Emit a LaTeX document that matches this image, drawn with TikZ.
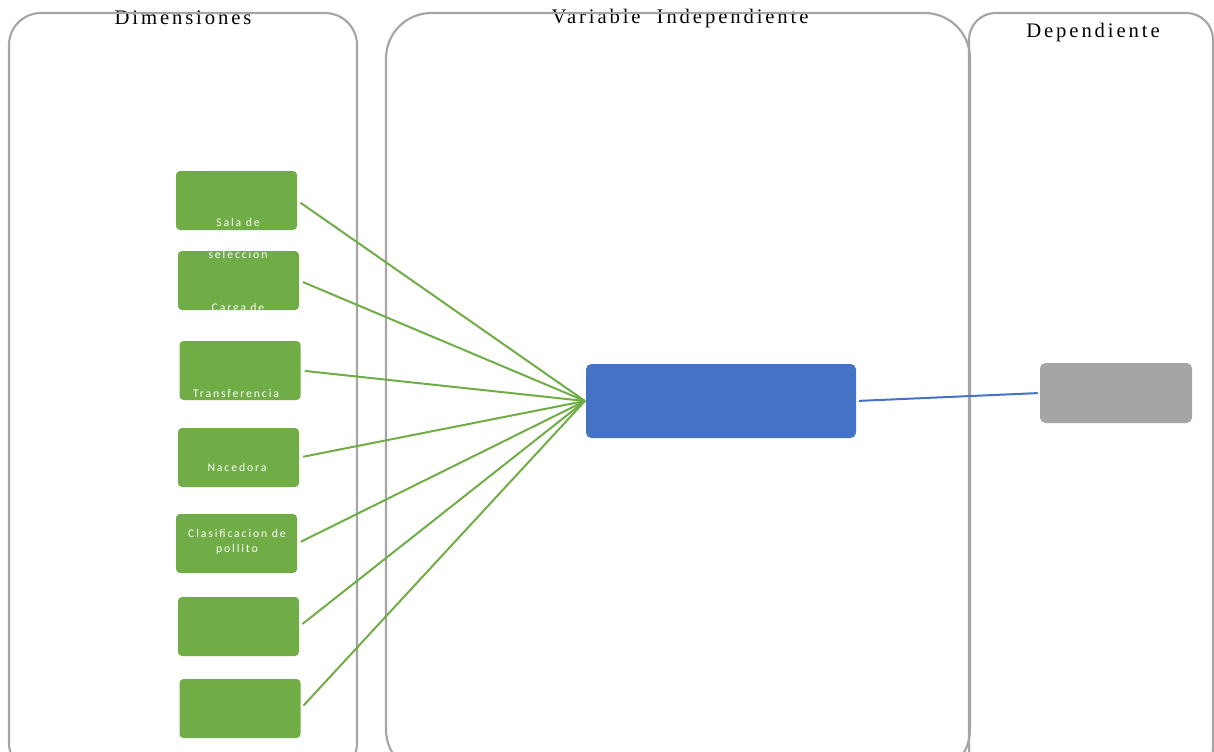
\documentclass[tikz,border=0pt]{standalone}
\usepackage{fontspec}
\setmainfont{Liberation Serif}
\newfontfamily\titlefont[LetterSpace=14]{Liberation Serif}
\newfontfamily\boxfont[LetterSpace=16]{Carlito}
\definecolor{frame}{HTML}{A5A5A5}
\definecolor{leaf}{HTML}{70AD47}
\definecolor{hubblue}{HTML}{4472C4}
\definecolor{outgray}{HTML}{A5A5A5}
\begin{document}
\begin{tikzpicture}[x=0.75pt,y=-0.75pt,
  panel/.style={draw=frame,line width=1.6pt},
  title/.style={font=\titlefont\fontsize{15.5}{18}\selectfont,anchor=base,inner sep=0pt},
  leafbox/.style={fill=leaf,draw=none,rounded corners=3pt,minimum width=90.75pt,minimum height=44.25pt,inner sep=0pt},
  leaftext/.style={text=white,font=\boxfont\fontsize{8.8}{11}\selectfont,align=center,inner sep=0pt},
  link/.style={draw=leaf,line width=1.5pt},
  outlink/.style={draw=hubblue,line width=1.5pt}]
\useasboundingbox (0,0) rectangle (1214,751);
\clip (0,0) rectangle (1214,751);

% column titles (the frames are drawn over them)
\node[title] (tdim) at (183,24) {Dimensiones};
\node[title] (tvar) at (680,23.5) {Variable\ \ Independiente};
\node[title] (tdep) at (1093,37) {Dependiente};

% column frames
\draw[panel,rounded corners=24pt] (9,13) rectangle (357,775);
\draw[panel,rounded corners=34pt] (386,13) rectangle (970,775);
\draw[panel,rounded corners=20pt] (969,13) rectangle (1213,775);

% dimension boxes
\node[leafbox] (g1) at (236.5,200.5) {};
\node[leafbox] (g2) at (238.5,280.5) {};
\node[leafbox] (g3) at (240,370.5) {};
\node[leafbox] (g4) at (238.5,457.5) {};
\node[leafbox] (g5) at (236.5,543.5) {};
\node[leafbox] (g6) at (238.5,626.5) {};
\node[leafbox] (g7) at (240,708.5) {};

% dimension labels
\node[leaftext] (l1) at (238,222) {Sala de};
\node[leaftext] (l2) at (238,254) {seleccion};
\begin{scope}
  \clip (g2.south west) rectangle (g2.north east);
  \node[leaftext] (l3) at (238,308) {Carga de};
\end{scope}
\node[leaftext] (l4) at (236,393) {Transferencia};
\node[leaftext] (l5) at (237,467) {Nacedora};
\node[leaftext] (l6) at (237,542) {Clasificacion de\\pollito};

% independent and dependent variable boxes
\node[fill=hubblue,rounded corners=4pt,minimum width=202.5pt,minimum height=55.5pt,inner sep=0pt] (hub) at (721,401) {};
\node[fill=outgray,rounded corners=4pt,minimum width=114pt,minimum height=45pt,inner sep=0pt] (dep) at (1116,393) {};

% connectors
\coordinate (join) at (585,401);
\foreach \g in {g1,g2,g3,g4,g5,g6,g7}
  \draw[link,shorten <=3pt] (\g.east) -- (join);
\draw[outlink,shorten <=2pt,shorten >=1.5pt] (hub.east) -- (dep.west);
\end{tikzpicture}
\end{document}
